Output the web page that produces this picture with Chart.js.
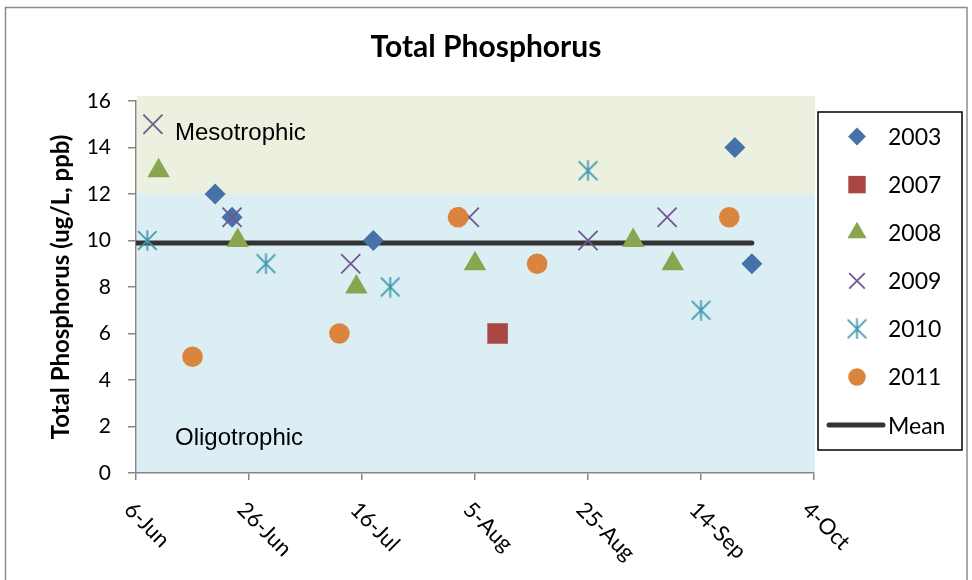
<!DOCTYPE html>
<html><head><meta charset="utf-8">
<script src="https://cdn.jsdelivr.net/npm/chart.js@4/dist/chart.umd.min.js"></script>
<style>html,body{margin:0;padding:0;background:#fff;} canvas{display:block;}</style>
</head><body>
<canvas id="c" width="972" height="580"></canvas>
<script>
// ---- Data (x = days after 6-Jun, y = Total Phosphorus, ug/L) ----
const seriesNames = ['2003', '2007', '2008', '2009', '2010', '2011', 'Mean'];
const days2003 = [14, 17, 42, 106, 109];
const tp2003   = [12, 11, 10, 14, 9];
const days2007 = [64];
const tp2007   = [6];
const days2008 = [4, 18, 39, 60, 88, 95];
const tp2008   = [13, 10, 8, 9, 10, 9];
const days2009 = [3, 17, 38, 59, 80, 94];
const tp2009   = [15, 11, 9, 11, 10, 11];
const days2010 = [2, 23, 45, 80, 100];
const tp2010   = [10, 9, 8, 13, 7];
const days2011 = [10, 36, 57, 71, 105];
const tp2011   = [5, 6, 11, 9, 11];
const meanDays = [0, 109];
const meanTP   = [9.89, 9.89];
const xTickLabels = ['6-Jun', '26-Jun', '16-Jul', '5-Aug', '25-Aug', '14-Sep', '4-Oct'];
const zoneNames  = ['Oligotrophic', 'Mesotrophic'];
const zoneLimits = [0, 12, 16];

// ---- Styles ----
const pts = (xs, ys) => xs.map((x, i) => ({x: x, y: ys[i]}));
function makeAsterisk(color, size, lw) {
  const c = document.createElement('canvas');
  c.width = size; c.height = size;
  const g = c.getContext('2d');
  g.strokeStyle = color; g.lineWidth = lw;
  const a = 1.2, b = size - 1.2;
  g.beginPath();
  g.moveTo(a, a); g.lineTo(b, b);
  g.moveTo(b, a); g.lineTo(a, b);
  g.moveTo(size / 2, 0.3); g.lineTo(size / 2, size - 0.3);
  g.stroke();
  return c;
}
const asterisk = makeAsterisk('#4198AF', 21, 1.8);

const styles = [
  {pointStyle: 'rectRot',  pointRadius: 10.5, color: '#4572A7', bw: 0},
  {pointStyle: 'rect',     pointRadius: 14.5, color: '#AA4643', bw: 0},
  {pointStyle: 'triangle', pointRadius: 13,   color: '#89A54E', bw: 0},
  {pointStyle: 'crossRot', pointRadius: 13.5, color: '#71588F', bw: 1.8},
  {pointStyle: asterisk,   pointRadius: 10.5, color: '#4198AF', bw: 0},
  {pointStyle: 'circle',   pointRadius: 10.3, color: '#DB843D', bw: 0}
];
const seriesData = [
  pts(days2003, tp2003), pts(days2007, tp2007), pts(days2008, tp2008),
  pts(days2009, tp2009), pts(days2010, tp2010), pts(days2011, tp2011)
];

const datasets = seriesData.map((d, i) => ({
  label: seriesNames[i],
  data: d,
  pointStyle: styles[i].pointStyle,
  pointRadius: styles[i].pointRadius,
  pointHoverRadius: styles[i].pointRadius,
  pointBackgroundColor: styles[i].color,
  pointBorderColor: styles[i].color,
  pointBorderWidth: styles[i].bw,
  backgroundColor: styles[i].color,
  borderColor: styles[i].color,
  showLine: false,
  order: seriesData.length - i
}));
datasets.push({
  label: seriesNames[6],
  data: pts(meanDays, meanTP),
  showLine: true,
  borderColor: '#333333',
  backgroundColor: '#333333',
  borderWidth: 5,
  borderCapStyle: 'round',
  pointRadius: 0,
  pointHoverRadius: 0,
  order: 10
});

const AXIS = '#868686';

const decorPlugin = {
  id: 'decor',
  beforeDraw(chart) {
    const {ctx, chartArea: ca, scales: {x, y}} = chart;
    ctx.save();
    ctx.fillStyle = '#ffffff';
    ctx.fillRect(0, 0, chart.width, chart.height);
    ctx.strokeStyle = '#8C8C8C';
    ctx.lineWidth = 1.5;
    ctx.strokeRect(5.5, 7.5, 961.5, 600);
    // trophic zones
    const yTopExtra = 5;
    ctx.fillStyle = '#DBEEF4';
    const y0 = y.getPixelForValue(zoneLimits[0]), y1 = y.getPixelForValue(zoneLimits[1]), y2 = y.getPixelForValue(zoneLimits[2]);
    ctx.fillRect(ca.left + 1, y1, ca.right - ca.left, y0 - y1);
    ctx.fillStyle = '#EBF1DE';
    ctx.fillRect(ca.left + 1, y2 - yTopExtra, ca.right - ca.left, y1 - y2 + yTopExtra);
    // zone labels
    ctx.fillStyle = '#000';
    ctx.font = '24px "Liberation Sans", Arial, sans-serif';
    ctx.textAlign = 'left';
    ctx.textBaseline = 'alphabetic';
    ctx.fillText(zoneNames[1], ca.left + 39, y2 + 39);
    ctx.fillText(zoneNames[0], ca.left + 39, y0 - 28);
    ctx.restore();
  },
  afterDraw(chart) {
    const {ctx, chartArea: ca, scales: {x}} = chart;
    ctx.save();
    // rotated x tick labels
    ctx.fillStyle = '#000';
    ctx.font = '22px Lato, sans-serif';
    ctx.textAlign = 'left';
    ctx.textBaseline = 'middle';
    x.ticks.forEach((t, i) => {
      const px = x.getPixelForValue(t.value);
      ctx.save();
      ctx.translate(px - 8, ca.bottom + 33);
      ctx.rotate(Math.PI / 4);
      ctx.fillText(t.label, 0, 0);
      ctx.restore();
    });
    // legend
    const L = ca.right + 4, T = 112, R = chart.width - 10, B = 450;
    ctx.strokeStyle = '#000';
    ctx.lineWidth = 1.5;
    ctx.strokeRect(L, T, R - L, B - T);
    const step = 48.1, y0 = 136.5, mx = L + 39, tx = L + 70;
    ctx.font = '23px Lato, sans-serif';
    chart.data.datasets.forEach((ds, i) => {
      const yy = y0 + i * step;
      if (ds.showLine) {
        ctx.strokeStyle = ds.borderColor;
        ctx.lineWidth = ds.borderWidth;
        ctx.lineCap = 'round';
        ctx.beginPath();
        ctx.moveTo(L + 11, yy); ctx.lineTo(L + 65, yy);
        ctx.stroke();
      } else {
        ctx.fillStyle = ds.pointBackgroundColor;
        ctx.strokeStyle = ds.pointBorderColor;
        ctx.lineWidth = ds.pointBorderWidth;
        const r = ds.pointStyle === 'crossRot' ? 11 : ds.pointRadius * 0.85;
        Chart.helpers.drawPoint(ctx, {pointStyle: ds.pointStyle, radius: r, borderWidth: ds.pointBorderWidth, rotation: 0}, mx, yy);
      }
      ctx.fillStyle = '#000';
      ctx.fillText(ds.label, tx, yy + 1);
    });
    ctx.restore();
  }
};

new Chart(document.getElementById('c'), {
  type: 'scatter',
  data: {datasets},
  plugins: [decorPlugin],
  options: {
    responsive: false,
    animation: false,
    devicePixelRatio: 1,
    events: [],
    layout: {padding: 0},
    plugins: {
      legend: {display: false},
      tooltip: {enabled: false},
      title: {
        display: true,
        text: 'Total Phosphorus',
        color: '#000',
        font: {family: 'Lato', size: 30, weight: 'bold'},
        padding: {top: 29, bottom: 36}
      }
    },
    scales: {
      x: {
        type: 'linear', min: 0, max: 120,
        ticks: {stepSize: 20, display: false, callback: (v, i) => xTickLabels[i]},
        grid: {drawOnChartArea: false, drawTicks: true, tickLength: 7, color: AXIS, lineWidth: 1.5},
        border: {color: AXIS, width: 1.5},
        afterFit: s => { s.height = 107; }
      },
      y: {
        min: 0, max: 16,
        ticks: {stepSize: 2, color: '#000', font: {family: 'Lato', size: 21}, padding: 17},
        grid: {drawOnChartArea: false, drawTicks: true, tickLength: 8, color: AXIS, lineWidth: 1.5},
        border: {color: AXIS, width: 1.5},
        title: {display: true, text: 'Total Phosphorus (ug/L, ppb)', color: '#000',
                font: {family: 'Lato', size: 24, weight: 'bold'}, padding: {top: 47, bottom: 0}},
        afterFit: s => { s.width = 136; }
      },
      legendSpace: {
        position: 'right', display: true,
        grid: {display: false}, border: {display: false}, ticks: {display: false},
        afterFit: s => { s.width = 158; }
      }
    }
  }
});
</script>
</body></html>
